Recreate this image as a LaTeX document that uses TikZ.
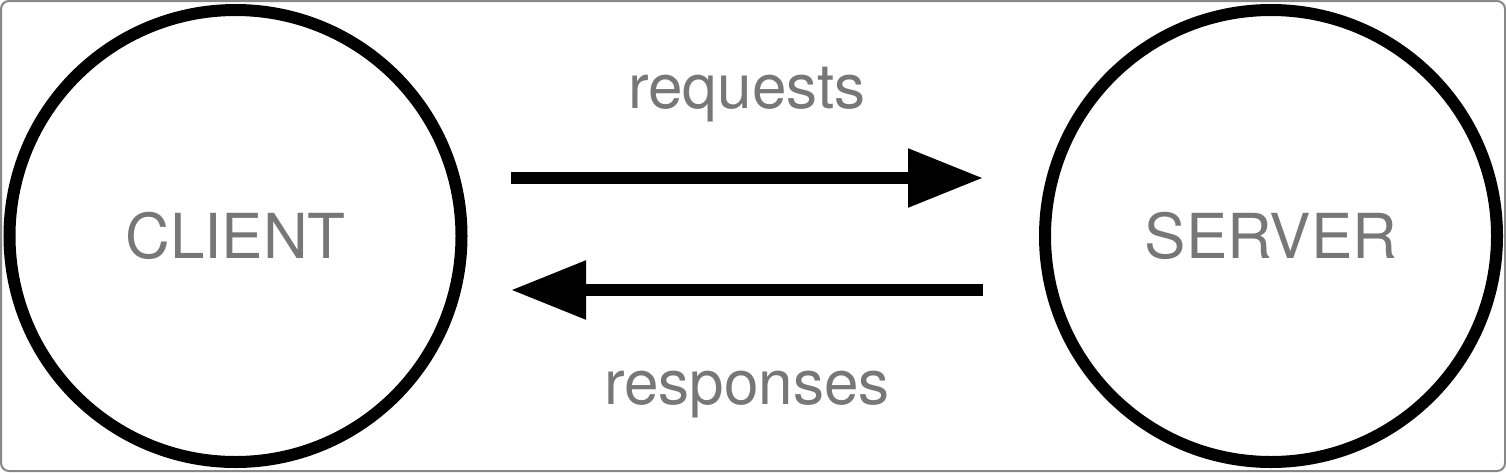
\documentclass[tikz,border=0pt]{standalone}
\usepackage{fontspec}
\setmainfont{TeX Gyre Heros}
\usetikzlibrary{arrows.meta}
\definecolor{txtgray}{HTML}{777777}
\definecolor{framegray}{HTML}{888888}
\tikzset{
  party/.style={circle, draw=black, line width=12pt, minimum size=452pt, inner sep=0pt,
    text=txtgray, font=\fontsize{62}{70}\selectfont},
  flow/.style={line width=12pt, -{Triangle[length=75pt, width=56pt]}},
  flowlabel/.style={text=txtgray, font=\fontsize{62}{70}\selectfont, anchor=base, inner sep=0pt}
}
\begin{document}
\begin{tikzpicture}[x=1pt, y=-1pt]
\useasboundingbox (0,0) rectangle (1506,472);
\draw[framegray, line width=2pt, rounded corners=8pt] (1,1) rectangle (1505,471);
\node[party] (client) at (235.5,236) {CLIENT};
\node[party] (server) at (1271,236) {SERVER};
\coordinate (reqstart) at (511,178);
\coordinate (reqend) at (983,178);
\coordinate (resstart) at (983,290);
\coordinate (resend) at (511,290);
\draw[flow] (reqstart) -- (reqend);
\draw[flow] (resstart) -- (resend);
\node[flowlabel] (reqlabel) at (747,108) {requests};
\node[flowlabel] (reslabel) at (747,404) {responses};
\end{tikzpicture}
\end{document}
